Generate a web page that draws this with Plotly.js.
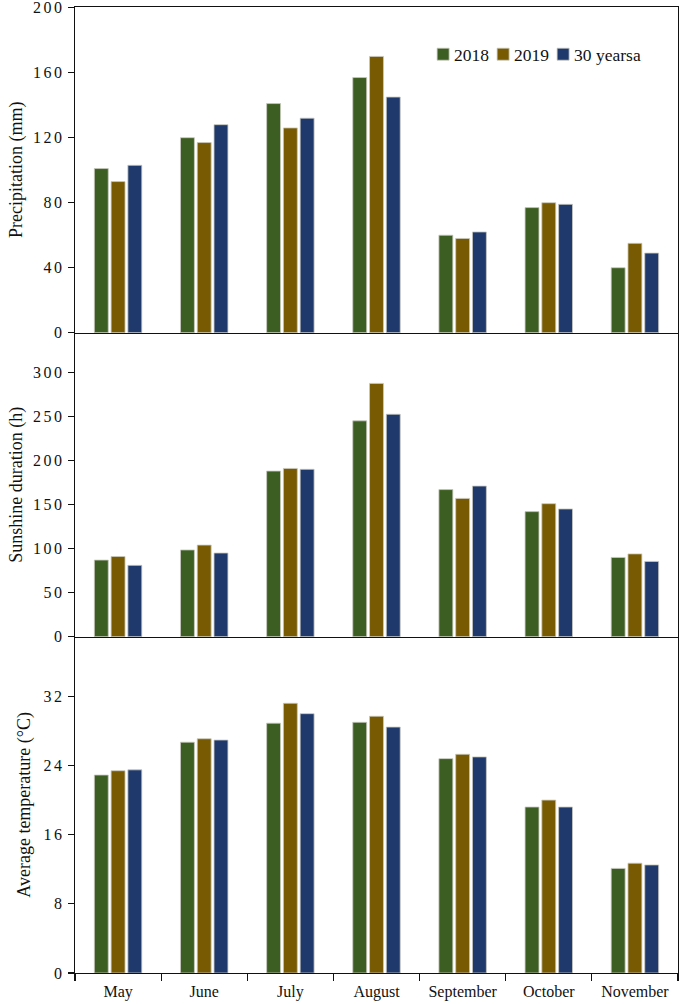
<!DOCTYPE html>
<html>
<head>
<meta charset="utf-8">
<script src="https://cdn.plot.ly/plotly-3.0.1.min.js"></script>
<style>
  html, body { margin: 0; padding: 0; background: #fff; }
  #chart { width: 681px; height: 1004px; }
  .yaxislayer-above text { letter-spacing: 2.5px; }
  /* pull legend labels closer to their swatches, and let the last label run past the entry width */
  .legendtext { transform: translate(-9px, 0); }
  .legend .scrollbox { clip-path: none !important; }
</style>
</head>
<body>
<div id="chart"></div>
<script>
// Monthly climate during the growing season: two years vs. the 30-year mean
const months = ['May', 'June', 'July', 'August', 'September', 'October', 'November'];
const seriesNames = ['2018', '2019', '30 yearsa'];

const precip2018 = [101, 120, 141, 157, 60, 77, 40];
const precip2019 = [93, 117, 126, 170, 58, 80, 55];
const precip30yr = [103, 128, 132, 145, 62, 79, 49];

const sun2018 = [87, 98.5, 188, 245, 167, 142, 90];
const sun2019 = [91, 104, 191, 287.5, 157, 151, 94];
const sun30yr = [81, 95, 190, 252.5, 171, 145, 85.5];

const temp2018 = [22.9, 26.7, 28.9, 29.0, 24.8, 19.2, 12.1];
const temp2019 = [23.4, 27.1, 31.2, 29.7, 25.3, 20.0, 12.7];
const temp30yr = [23.5, 26.95, 30.0, 28.45, 25.0, 19.2, 12.5];

const colors = ['#3d5e22', '#785a02', '#1f396c'];
const edge = { color: '#c9c9bf', width: 0.8 };
const serif = 'Liberation Serif, Times New Roman, serif';

const panels = [
  { x: 'x',  y: 'y',  data: [precip2018, precip2019, precip30yr] },
  { x: 'x2', y: 'y2', data: [sun2018, sun2019, sun30yr] },
  { x: 'x3', y: 'y3', data: [temp2018, temp2019, temp30yr] }
];

const traces = [];
panels.forEach((p, pi) => {
  p.data.forEach((vals, si) => {
    traces.push({
      type: 'bar',
      x: months,
      y: vals,
      name: seriesNames[si],
      xaxis: p.x,
      yaxis: p.y,
      marker: { color: colors[si], line: edge },
      showlegend: pi === 0,
      hoverinfo: 'x+y+name'
    });
  });
});

const lineCol = '#111';
function yAxis(domain, range, dtick, title) {
  return {
    domain: domain,
    range: range,
    dtick: dtick,
    tick0: 0,
    showgrid: false,
    zeroline: false,
    showline: true,
    linecolor: lineCol,
    linewidth: 1.3,
    mirror: true,
    ticks: 'outside',
    ticklen: 6,
    tickwidth: 1.2,
    tickcolor: lineCol,
    ticklabeloverflow: 'allow',
    tickfont: { family: serif, size: 16, color: '#111' },
    title: { text: title, font: { family: serif, size: 18, color: '#111' }, standoff: 13 },
    fixedrange: true
  };
}
function xAxis(anchor, showLabels, mirror) {
  return {
    anchor: anchor,
    matches: anchor === 'y' ? undefined : 'x',
    type: 'category',
    showgrid: false,
    zeroline: false,
    showline: true,
    linecolor: lineCol,
    linewidth: 1.3,
    mirror: mirror,
    ticks: showLabels ? 'outside' : '',
    tickson: 'boundaries',
    ticklen: 7,
    tickwidth: 1.2,
    tickcolor: lineCol,
    showticklabels: showLabels,
    ticklabelstandoff: 3,
    tickfont: { family: serif, size: 16, color: '#111' },
    fixedrange: true
  };
}

const layout = {
  width: 681,
  height: 1004,
  margin: { l: 75, r: 3, t: 7, b: 31 },
  paper_bgcolor: '#fff',
  plot_bgcolor: '#fff',
  barmode: 'group',
  bargap: 0.416,
  bargroupgap: 0.17,
  xaxis: xAxis('y', false, true),
  xaxis2: xAxis('y2', false, false),
  xaxis3: xAxis('y3', true, false),
  yaxis: yAxis([0.6628, 1], [0, 200.4], 40, 'Precipitation (mm)'),
  yaxis2: yAxis([0.3481, 0.6628], [0, 345], 50, 'Sunshine duration (h)'),
  yaxis3: yAxis([0, 0.3481], [0, 38.9], 8, 'Average temperature (°C)'),
  showlegend: true,
  legend: {
    x: 0.5773, xanchor: 'left',
    y: 0.951, yanchor: 'middle',
    orientation: 'h',
    bgcolor: 'rgba(0,0,0,0)',
    borderwidth: 0,
    itemwidth: 30,
    entrywidth: 15,
    entrywidthmode: 'pixels',
    font: { family: serif, size: 17.5, color: '#111' }
  }
};

Plotly.newPlot('chart', traces, layout, { displayModeBar: false, staticPlot: true });
</script>
</body>
</html>
